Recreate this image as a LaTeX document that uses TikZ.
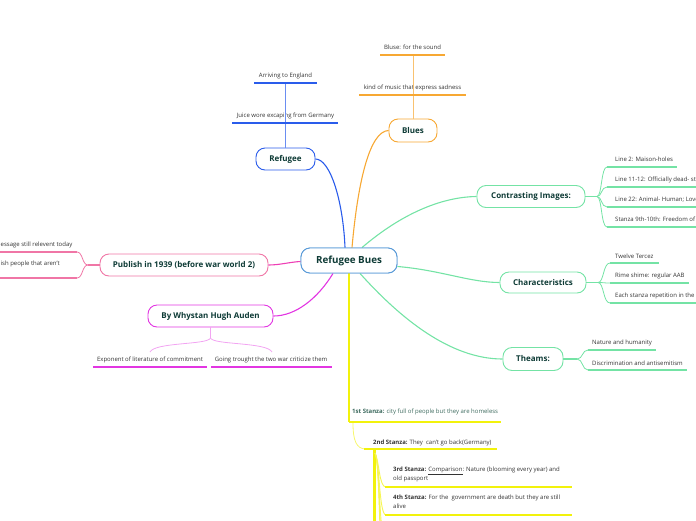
\documentclass[tikz,border=0pt]{standalone}
\usepackage{fontspec}
\setmainfont{Open Sans}
\definecolor{tealtext}{HTML}{0E3B36}
\definecolor{childtext}{HTML}{333333}
\definecolor{stanzatext}{HTML}{3E6B5F}
\definecolor{cblue}{HTML}{5A9BD8}
\definecolor{rblue}{HTML}{2A5CEB}
\definecolor{orng}{HTML}{F7A833}
\definecolor{mint}{HTML}{74E3A5}
\definecolor{pnk}{HTML}{F076A6}
\definecolor{pnkline}{HTML}{EE3FB5}
\definecolor{mag}{HTML}{E236E2}
\definecolor{yel}{HTML}{F2F20C}
\tikzset{
  mainnode/.style={draw, fill=white, rounded corners=9pt, line width=0.9pt, text=tealtext,
    font=\bfseries\fontsize{8}{10}\selectfont, inner sep=0pt},
  leaf/.style={font=\fontsize{6}{8.5}\selectfont, text=childtext, inner sep=0pt},
  uline/.style={line width=1.8pt},
  conn/.style={line width=1.1pt},
  subconn/.style={line width=0.8pt},
}
\begin{document}
\begin{tikzpicture}[x=1pt,y=-1pt]
\useasboundingbox (0,0) rectangle (696,520);
\clip (0,0) rectangle (696,520);

% ---------- main nodes ----------
\node[mainnode, draw=cblue, minimum width=96pt, minimum height=25pt,
      font=\bfseries\fontsize{9.8}{12}\selectfont] (c) at (349,260.5) {Refugee Bues};
\node[mainnode, draw=orng, minimum width=48pt, minimum height=23pt] (b) at (413,130.5) {Blues};
\node[mainnode, draw=rblue, minimum width=59pt, minimum height=22pt] (r) at (285.5,159) {Refugee};
\node[mainnode, draw=mint, minimum width=108pt, minimum height=22pt] (ci) at (531,196.5) {Contrasting Images:};
\node[mainnode, draw=mint, minimum width=86pt, minimum height=21pt] (ch) at (543,282.5) {Characteristics};
\node[mainnode, draw=mint, minimum width=60pt, minimum height=23pt] (th) at (533,359) {Theams:};
\node[mainnode, draw=pnk, minimum width=168pt, minimum height=22pt] (pu) at (184,265) {Publish in 1939 (before war world 2)};
\node[mainnode, draw=mag, minimum width=125pt, minimum height=22pt] (au) at (210.5,316) {By Whystan Hugh Auden};

% ---------- connectors from centre ----------
\draw[conn, rblue] ([xshift=-4pt]c.north) .. controls (343,200) and (330,159) .. (r.east);
\draw[conn, orng] ([xshift=3pt]c.north) .. controls (358,180) and (370,131) .. (b.west);
\draw[conn, mint] ([xshift=13pt]c.north) .. controls (400,215) and (440,197) .. (ci.west);
\draw[conn, mint] ([yshift=-6pt]c.east) .. controls (440,270) and (470,282.5) .. (ch.west);
\draw[conn, mint] ([xshift=11pt]c.south) .. controls (400,318) and (450,359) .. (th.west);
\draw[conn, pnkline] ([yshift=-1pt]c.west) .. controls (290,262) and (280,265) .. (pu.east);
\draw[conn, mag] ([xshift=-16pt]c.south) .. controls (318,298) and (296,316) .. (au.east);

% ---------- Blues children ----------
\node[leaf] (b1) at (412.5,88) {kind of music that express sadness};
\node[leaf] (b2) at (412.5,47) {Bluse: for the sound};
\coordinate (b1u) at (413,95);
\coordinate (b2u) at (413,55);
\draw[subconn, orng!70] (b.north) -- (b1u);
\draw[subconn, orng!70] (b1u) -- (b2u);
\draw[uline, orng] (359,95) -- (466,95);
\draw[uline, orng] (380,55) -- (445,55);

% ---------- Refugee children ----------
\node[leaf] (r1) at (285.5,116) {Juice wore excaping from Germany};
\node[leaf] (r2) at (285.5,76) {Arriving to England};
\coordinate (r1u) at (285.5,123);
\coordinate (r2u) at (285.5,83);
\draw[subconn, rblue!70] (r.north) -- (r1u);
\draw[subconn, rblue!70] (r1u) -- (r2u);
\draw[uline, rblue] (232,123) -- (338,123);
\draw[uline, rblue] (254,83) -- (317,83);

% ---------- Contrasting Images children ----------
\coordinate (cif) at (597,196.5);
\draw[conn, mint] (ci.east) -- (cif);
\foreach \yy/\xe [count=\i] in {167/677, 187/700, 207/700, 227/700}{
  \coordinate (ciu\i) at (607,\yy);
  \draw[subconn, mint] (cif) .. controls (602,196.5) and (601,\yy) .. (ciu\i);
  \draw[uline, mint] (ciu\i) -- (\xe,\yy);
}
\node[leaf, anchor=west] (ci1) at (615,159.5) {Line 2: Maison-holes};
\node[leaf, anchor=west] (ci2) at (615,179.5) {Line 11-12: Officially dead- still};
\node[leaf, anchor=west] (ci3) at (615,199.5) {Line 22: Animal- Human; Love};
\node[leaf, anchor=west] (ci4) at (615,219.5) {Stanza 9th-10th: Freedom of};

% ---------- Characteristics children ----------
\coordinate (chf) at (598,282.5);
\draw[conn, mint] (ch.east) -- (chf);
\foreach \yy/\xe [count=\i] in {263/659, 283/689, 303/700}{
  \coordinate (chu\i) at (610,\yy);
  \draw[subconn, mint] (chf) .. controls (604,282.5) and (603,\yy) .. (chu\i);
  \draw[uline, mint] (chu\i) -- (\xe,\yy);
}
\node[leaf, anchor=west] (ch1) at (615,256) {Twelve Tercez};
\node[leaf, anchor=west] (ch2) at (615,276) {Rime shime: regular AAB};
\node[leaf, anchor=west] (ch3) at (615,296) {Each stanza repetition in the};

% ---------- Theams children ----------
\coordinate (thf) at (577,359);
\draw[conn, mint] (th.east) -- (thf);
\foreach \yy/\xe [count=\i] in {350/656, 370/687}{
  \coordinate (thu\i) at (588,\yy);
  \draw[subconn, mint] (thf) .. controls (583,359) and (582,\yy) .. (thu\i);
  \draw[uline, mint] (thu\i) -- (\xe,\yy);
}
\node[leaf, anchor=west] (th1) at (592,343) {Nature and humanity};
\node[leaf, anchor=west] (th2) at (592,363) {Discrimination and antisemitism};

% ---------- Publish children ----------
\coordinate (puf) at (88,265);
\draw[conn, pnk] (pu.west) -- (puf);
\foreach \yy [count=\i] in {252, 278}{
  \coordinate (puu\i) at (77,\yy);
  \draw[subconn, pnk] (puf) .. controls (82,265) and (83,\yy) .. (puu\i);
  \draw[uline, pnk] (puu\i) -- (-5,\yy);
}
\node[leaf, anchor=west] (pu1) at (0.5,245) {essage still relevent today};
\node[leaf, anchor=west] (pu2) at (0.5,263.5) {ish people that aren't};

% ---------- Auden children ----------
\coordinate (auf) at (210.5,338);
\draw[subconn, mag!45] (au.south) -- (auf);
\coordinate (aul) at (150,352);
\coordinate (aur) at (272,352);
\draw[subconn, mag!45] (auf) .. controls (208,345) and (155,342) .. (aul);
\draw[subconn, mag!45] (auf) .. controls (213,345) and (267,342) .. (aur);
\draw[uline, mag] (93,367) -- (207,367);
\draw[uline, mag] (211,367) -- (332,367);
\node[leaf] (au1) at (150,359.5) {Exponent of literature of commitment};
\node[leaf] (au2) at (271,359.5) {Going trought the two war criticize them};

% ---------- Stanzas (yellow) ----------
\coordinate (s1u) at (349,422);
\draw[line width=1.6pt, yel] (c.south) -- (s1u);
\draw[uline, yel] (s1u) -- (501,422);
\node[leaf, anchor=west, text=stanzatext] (s1) at (352,412) {\textbf{1st Stanza:} city full of people but they are homeless};

\coordinate (s2a) at (353,423);
\coordinate (s2u) at (366,449);
\draw[subconn, yel!60] (s2a) .. controls (353,440) and (356,449) .. (s2u);
\draw[uline, yel] (364,449) -- (497,449);
\node[leaf, anchor=west] (s2) at (373,443) {\textbf{2nd Stanza:} They\ \ can't go back(Germany)};

\coordinate (s2v) at (374.5,449);
\coordinate (s2e) at (374.5,530);
\draw[line width=2.6pt, yel] (s2v) -- (s2e);
\coordinate (sf) at (375,453);
\foreach \yy/\k [count=\i] in {487/5, 515/6, 543/7, 571/8, 599/9}{
  \coordinate (su\i) at (386,\yy);
  \draw[line width=0.9pt, yel!70] (sf) .. controls (378+\k*0.3,462) and (379,\yy) .. (su\i);
}
\draw[uline, yel] (385,487) -- (572,487);
\draw[uline, yel] (385,515) -- (572,515);
\node[leaf, anchor=north west, align=left] (s3) at (393,467) {\textbf{3rd Stanza:} \underline{Comparison}: Nature (blooming every year) and\\old passport};
\node[leaf, anchor=north west, align=left] (s4) at (393,495) {\textbf{4th Stanza:} For the\ \ government are death but they are still\\alive};

% centre node again on top of its connectors
\node[mainnode, draw=cblue, minimum width=96pt, minimum height=25pt,
      font=\bfseries\fontsize{9.8}{12}\selectfont] (ctop) at (349,260.5) {Refugee Bues};
\end{tikzpicture}
\end{document}
